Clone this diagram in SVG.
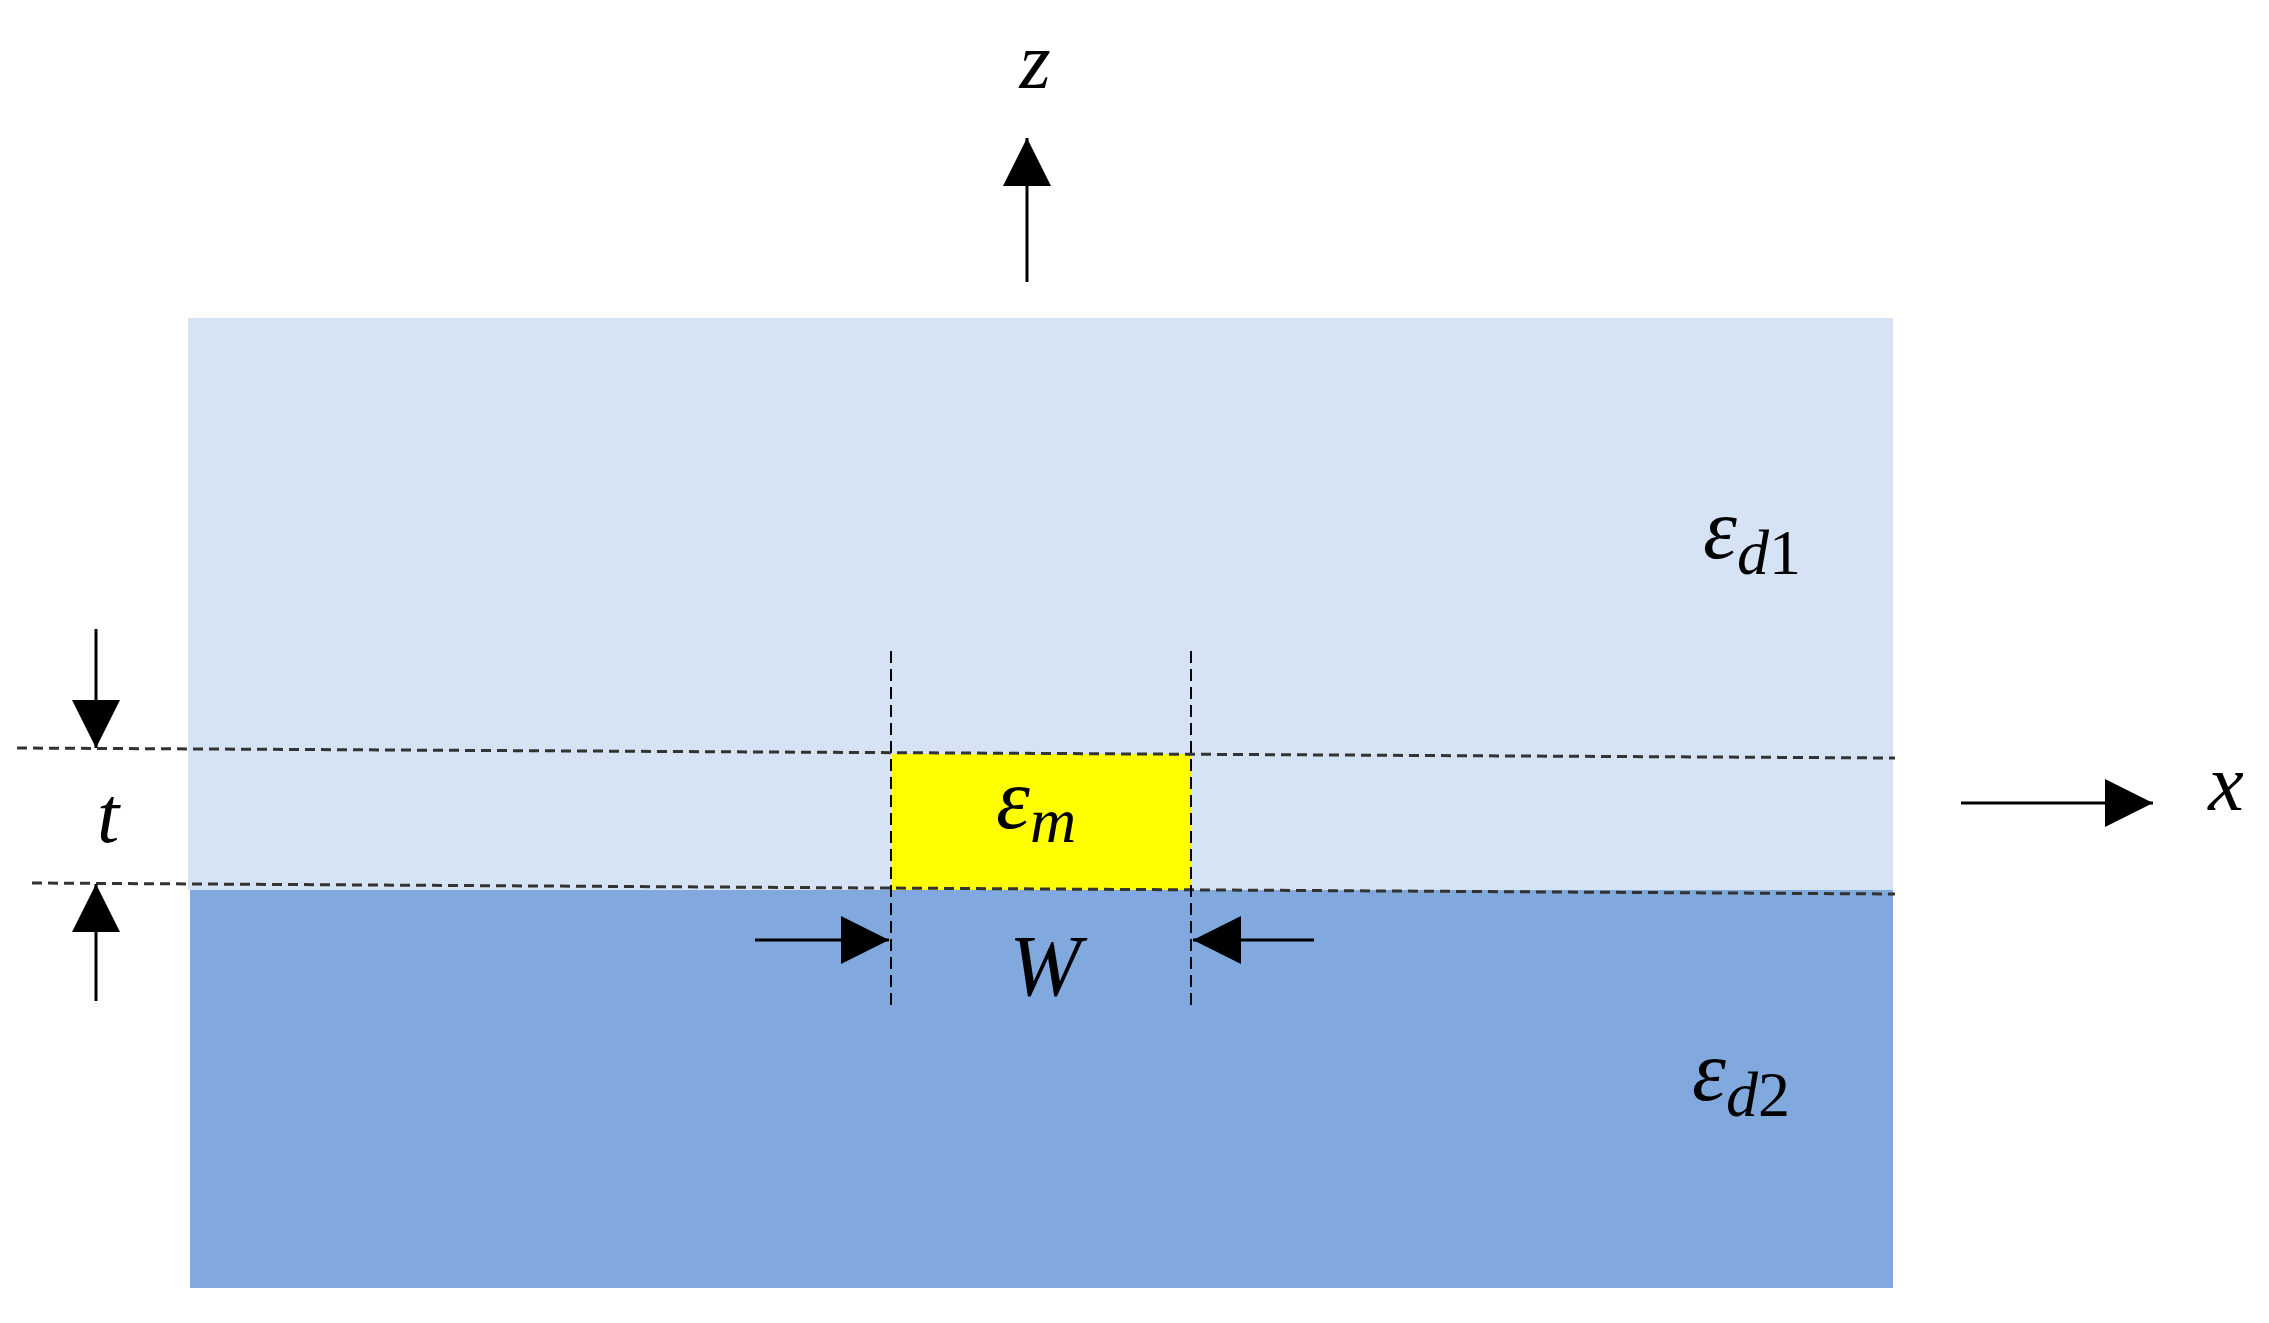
<svg xmlns="http://www.w3.org/2000/svg" width="2269" height="1323" viewBox="0 0 2269 1323">
<defs>
<marker id="ah" markerWidth="10" markerHeight="10" refX="9" refY="5" orient="auto" markerUnits="userSpaceOnUse" viewBox="0 0 10 10"><path d="M0,0 L10,5 L0,10 z" fill="#000"/></marker>
<marker id="big" viewBox="0 0 10 10" refX="10" refY="5" markerWidth="48" markerHeight="48" markerUnits="userSpaceOnUse" orient="auto"><path d="M0,0 L10,5 L0,10 z" fill="#000"/></marker>
</defs>
<style>
.m{font-family:"Liberation Serif",serif;font-style:italic;fill:#000}
.d{stroke:#333;stroke-width:3;stroke-dasharray:10 6;fill:none}
.dv{stroke:#000;stroke-width:2;stroke-dasharray:12 6;fill:none}
.a{stroke:#000;stroke-width:3;fill:none;marker-end:url(#big)}
</style>
<rect width="2269" height="1323" fill="#fff"/>
<g id="upper"><rect x="188" y="318" width="1705" height="572" fill="#D6E3F4"/></g>
<g id="lower"><rect x="190" y="890" width="1703" height="398" fill="#82A9DE"/></g>
<g id="metal"><rect x="891" y="754" width="300" height="136" fill="#FFFF00"/></g>
<g id="connectors">
<path class="d" d="M17,748 L1895,758"/>
<path class="d" d="M32,883 L1895,894"/>
<path class="dv" d="M891,651 V1006"/>
<path class="dv" d="M1191,651 V1006"/>
<path class="a" d="M1027,282 V138"/>
<path class="a" d="M1961,803 H2153"/>
<path class="a" d="M96,629 V748"/>
<path class="a" d="M96,1001 V884"/>
<path class="a" d="M755,940 H889"/>
<path class="a" d="M1314,940 H1193"/>
</g>
<g id="labels">
<text class="m" x="1035" y="88" font-size="80" text-anchor="middle">z</text>
<text class="m" x="2226" y="810" font-size="80" text-anchor="middle">x</text>
<text class="m" x="108" y="842" font-size="80" text-anchor="middle">t</text>
<text class="m" x="1045" y="995" font-size="86" text-anchor="middle">W</text>
<text class="m" x="996" y="828" font-size="86">ε<tspan font-size="64" dy="14">m</tspan></text>
<text class="m" x="1703" y="558" font-size="86">ε<tspan font-size="64" dy="16">d</tspan><tspan font-style="normal" font-size="64">1</tspan></text>
<text class="m" x="1692" y="1100" font-size="86">ε<tspan font-size="64" dy="16">d</tspan><tspan font-style="normal" font-size="64">2</tspan></text>
</g>
</svg>
